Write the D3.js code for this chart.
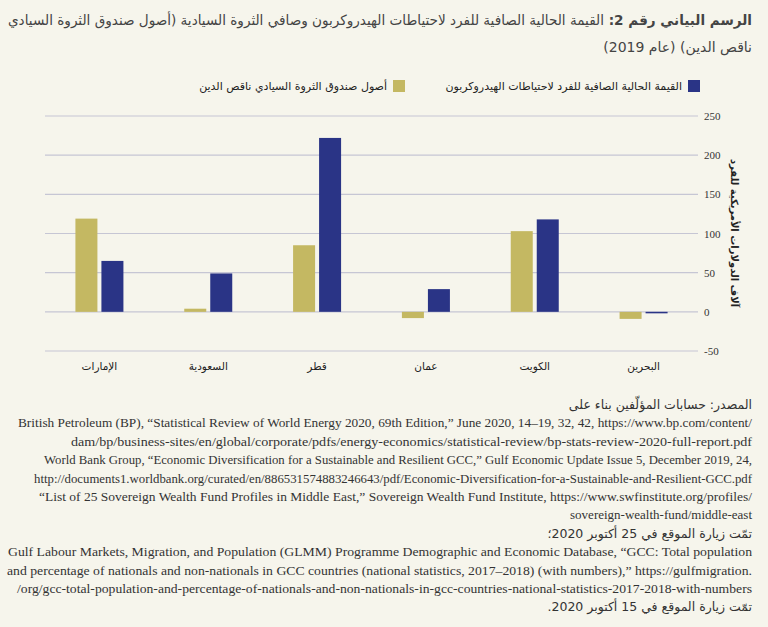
<!DOCTYPE html>
<html lang="ar">
<head>
<meta charset="utf-8">
<style>
  body { margin: 0; background: #f6f5ec; }
  svg { display: block; }
  text { font-family: 'DejaVu Sans', sans-serif; }
  .en { font-family: 'Liberation Serif', serif; fill: #333; }
</style>
<script src="https://cdn.jsdelivr.net/npm/d3@7"></script>
</head>
<body>
<svg id="chart" width="768" height="627"></svg>
<script>
var countries = ["الإمارات", "السعودية", "قطر", "عمان", "الكويت", "البحرين"];
var swfValues = [119, 4, 85, -8, 103, -9];
var hydroValues = [65, 49, 222, 29, 118, -1];
var yTicks = [-50, 0, 50, 100, 150, 200, 250];
var seriesNames = ["أصول صندوق الثروة السيادي ناقص الدين", "القيمة الحالية الصافية للفرد لاحتياطات الهيدروكربون"];
var colors = ["#c4b862", "#2a3486"];

var svg = d3.select("#chart");

// title
var t1 = svg.append("text").attr("x", 752).attr("y", 25).attr("direction", "rtl")
    .attr("text-anchor", "start").style("font-size", "14px").attr("fill", "#444")
    .attr("textLength", 744).attr("lengthAdjust", "spacingAndGlyphs");
t1.append("tspan").attr("font-weight", "bold").text("الرسم البياني رقم 2: ");
t1.append("tspan").text("القيمة الحالية الصافية للفرد لاحتياطات الهيدروكربون وصافي الثروة السيادية (أصول صندوق الثروة السيادي");
svg.append("text").attr("x", 752).attr("y", 52).attr("direction", "rtl")
    .attr("text-anchor", "start").style("font-size", "14px").attr("fill", "#444")
    .text("ناقص الدين) (عام 2019)");

// legend
var legendX = [405, 700];
[1, 0].forEach(function(i) {
    svg.append("rect").attr("x", legendX[i] - 12).attr("y", 80).attr("width", 12).attr("height", 12).attr("fill", colors[i]);
    svg.append("text").attr("x", legendX[i] - 18).attr("y", 90).attr("direction", "rtl")
        .attr("text-anchor", "start").style("font-size", "11px").attr("fill", "#222").text(seriesNames[i]);
});

var x = d3.scaleBand().domain(countries).range([45, 698]);
var y = d3.scaleLinear().domain([-50, 250]).range([351, 116]);

var g = svg.append("g");
g.selectAll("line.grid").data(yTicks).join("line")
    .attr("x1", 45).attr("x2", 698)
    .attr("y1", d => y(d)).attr("y2", d => y(d))
    .attr("stroke", "#c6c6d4").attr("stroke-width", 1.2);
g.selectAll("text.tick").data(yTicks).join("text").attr("class", "en")
    .attr("x", 704).attr("y", d => y(d) + 4).style("font-size", "11px").text(d => d);

var bw = 22;
g.selectAll("rect.swf").data(swfValues).join("rect")
    .attr("x", (d, i) => x(countries[i]) + x.bandwidth() / 2 - bw - 2)
    .attr("y", d => y(Math.max(0, d))).attr("width", bw)
    .attr("height", d => Math.abs(y(d) - y(0))).attr("fill", colors[0]);
g.selectAll("rect.hyd").data(hydroValues).join("rect")
    .attr("x", (d, i) => x(countries[i]) + x.bandwidth() / 2 + 2)
    .attr("y", d => y(Math.max(0, d))).attr("width", bw)
    .attr("height", d => Math.max(1.5, Math.abs(y(d) - y(0)))).attr("fill", colors[1]);

g.selectAll("text.cat").data(countries).join("text")
    .attr("x", d => x(d) + x.bandwidth() / 2).attr("y", 370)
    .attr("text-anchor", "middle").style("font-size", "10.5px").attr("fill", "#222").text(d => d);

svg.append("text").attr("transform", "translate(731,233) rotate(90)")
    .attr("text-anchor", "middle").style("font-size", "10px").attr("font-weight", "bold")
    .attr("fill", "#222").text("آلاف الدولارات الأمريكية للفرد");

// source notes
var sourceLines = [
    ["ar", "المصدر: حسابات المؤلّفين بناء على"],
    [18, "British Petroleum (BP), “Statistical Review of World Energy 2020, 69th Edition,” June 2020, 14–19, 32, 42, https://www.bp.com/content/"],
    [71, "dam/bp/business-sites/en/global/corporate/pdfs/energy-economics/statistical-review/bp-stats-review-2020-full-report.pdf"],
    [44, "World Bank Group, “Economic Diversification for a Sustainable and Resilient GCC,” Gulf Economic Update Issue 5, December 2019, 24,"],
    [34, "http://documents1.worldbank.org/curated/en/886531574883246643/pdf/Economic-Diversification-for-a-Sustainable-and-Resilient-GCC.pdf"],
    [39, "“List of 25 Sovereign Wealth Fund Profiles in Middle East,” Sovereign Wealth Fund Institute, https://www.swfinstitute.org/profiles/"],
    [null, "sovereign-wealth-fund/middle-east"],
    ["ar", "تمّت زيارة الموقع في 25 أكتوبر 2020؛"],
    [8, "Gulf Labour Markets, Migration, and Population (GLMM) Programme Demographic and Economic Database, “GCC: Total population"],
    [7, "and percentage of nationals and non-nationals in GCC countries (national statistics, 2017–2018) (with numbers),” https://gulfmigration."],
    [17, "/org/gcc-total-population-and-percentage-of-nationals-and-non-nationals-in-gcc-countries-national-statistics-2017-2018-with-numbers"],
    ["ar", "تمّت زيارة الموقع في 15 أكتوبر 2020."]
];
sourceLines.forEach(function(l, i) {
    var yy = 409 + i * 18.4;
    if (l[0] === "ar") {
        svg.append("text").attr("x", 752).attr("y", yy).attr("direction", "rtl")
            .attr("text-anchor", "start").style("font-size", "12.5px").attr("fill", "#333").text(l[1]);
    } else {
        var t = svg.append("text").attr("class", "en").attr("x", 752).attr("y", yy)
            .attr("text-anchor", "end").style("font-size", "13px").text(l[1]);
        if (l[0] !== null) t.attr("textLength", 752 - l[0]).attr("lengthAdjust", "spacingAndGlyphs");
    }
});
</script>
</body>
</html>
